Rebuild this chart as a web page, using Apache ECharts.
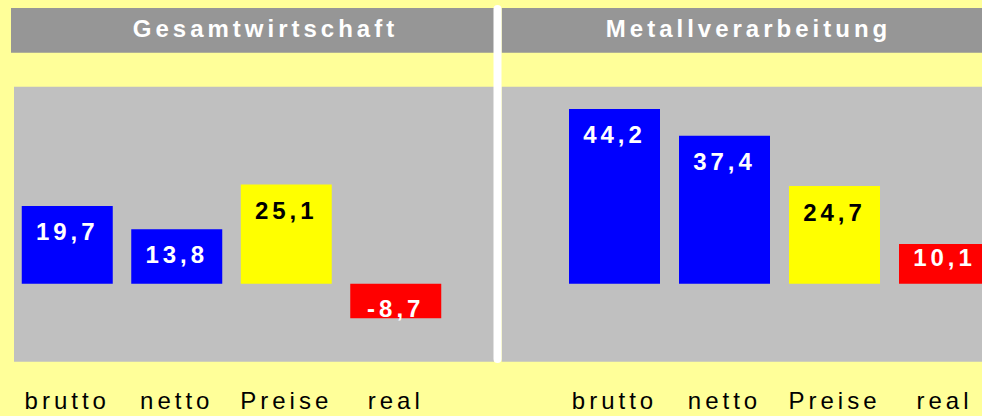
<!DOCTYPE html>
<html>
<head>
<meta charset="utf-8">
<script src="https://cdn.jsdelivr.net/npm/echarts@6/dist/echarts.min.js"></script>
<style>
  html, body { margin: 0; padding: 0; background: #FFFF99; }
  #chart { width: 982px; height: 416px; }
  #chart text { letter-spacing: 4px; }
</style>
</head>
<body>
<div id="chart"></div>
<script>
// ---- data ----
const categories = ['brutto', 'netto', 'Preise', 'real'];
const panelTitles = ['Gesamtwirtschaft', 'Metallverarbeitung'];
const gesamtValues = [19.7, 13.8, 25.1, -8.7];
const metallValues = [44.2, 37.4, 24.7, 10.1];

// ---- styles ----
const barColors = ['#0000FF', '#0000FF', '#FFFF00', '#FF0000'];
const labelColors = ['#FFFFFF', '#FFFFFF', '#000000', '#FFFFFF'];
const gesamtLabelDist = [14, 13, 14, 13];
const metallLabelDist = [14, 14, 14, 2];
const FONT = '"Liberation Sans", Arial, sans-serif';

function fmt(v) { return v.toFixed(1).replace('.', ','); }

function buildData(values, dists) {
  return values.map((v, i) => ({
    value: v,
    itemStyle: { color: barColors[i] },
    label: { color: labelColors[i], distance: dists[i] }
  }));
}

function xAxisFor(gridIndex) {
  return {
    type: 'category', gridIndex, data: categories,
    axisLine: { show: false, onZero: false },
    axisTick: { show: false },
    splitLine: { show: false },
    axisLabel: { interval: 0, margin: 25, fontSize: 24, color: '#000', fontFamily: FONT }
  };
}
function yAxisFor(gridIndex) {
  return { type: 'value', gridIndex, min: -20, max: 50, show: false, splitLine: { show: false } };
}
function barSeries(idx, values, dists) {
  return {
    type: 'bar', xAxisIndex: idx, yAxisIndex: idx,
    barWidth: 91,
    data: buildData(values, dists),
    label: {
      show: true, position: 'insideTop',
      fontSize: 24, fontWeight: 'bold', fontFamily: FONT,
      formatter: p => fmt(p.value)
    },
    emphasis: { disabled: true },
    animation: false
  };
}

const chart = echarts.init(document.getElementById('chart'), null, { renderer: 'svg', width: 982, height: 416 });
chart.setOption({
  backgroundColor: '#FFFF99',
  animation: false,
  grid: [
    { left: 12.5, top: 86, width: 438, height: 277, outerBoundsMode: 'none', containLabel: false },
    { left: 559.5, top: 86, width: 440, height: 277, outerBoundsMode: 'none', containLabel: false }
  ],
  xAxis: [xAxisFor(0), xAxisFor(1)],
  yAxis: [yAxisFor(0), yAxisFor(1)],
  series: [
    barSeries(0, gesamtValues, gesamtLabelDist),
    barSeries(1, metallValues, metallLabelDist)
  ],
  graphic: [
    { type: 'rect', z: -10, shape: { x: 11, y: 8, width: 483, height: 44.7 }, style: { fill: '#969696' } },
    { type: 'rect', z: -10, shape: { x: 501.7, y: 8, width: 481, height: 44.7 }, style: { fill: '#969696' } },
    { type: 'rect', z: -10, shape: { x: 14, y: 86.7, width: 480, height: 275 }, style: { fill: '#C0C0C0' } },
    { type: 'rect', z: -10, shape: { x: 501.7, y: 86.7, width: 481, height: 275 }, style: { fill: '#C0C0C0' } },
    { type: 'line', z: 10, shape: { x1: 497.5, y1: 9, x2: 497.5, y2: 359 }, style: { stroke: '#FFFFFF', lineWidth: 8, lineCap: 'round' } },
    { type: 'text', z: 10, x: 265.5, y: 28, style: { text: panelTitles[0], fill: '#FFFFFF', font: 'bold 24px ' + FONT, textAlign: 'center', textVerticalAlign: 'middle' } },
    { type: 'text', z: 10, x: 748.5, y: 28, style: { text: panelTitles[1], fill: '#FFFFFF', font: 'bold 24px ' + FONT, textAlign: 'center', textVerticalAlign: 'middle' } }
  ]
});
</script>
</body>
</html>
